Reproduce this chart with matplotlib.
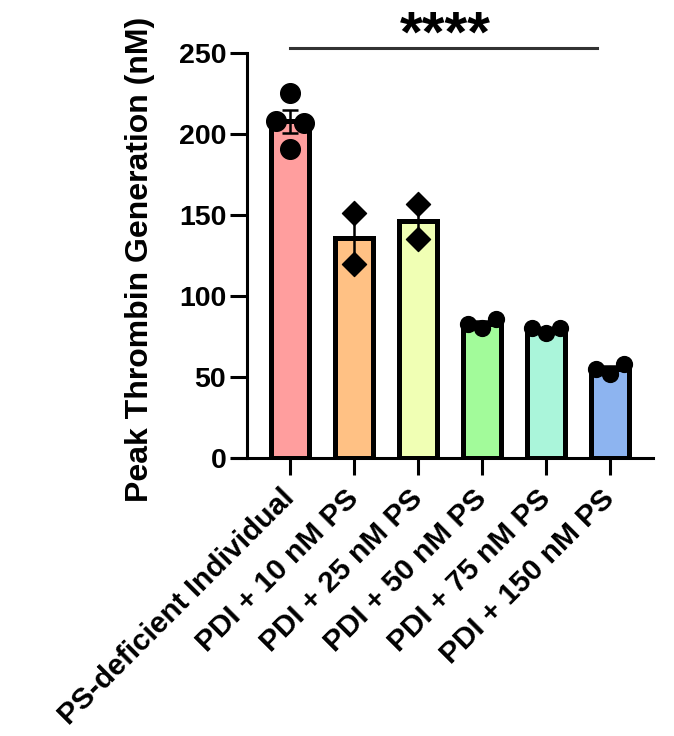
import numpy as np
import matplotlib
matplotlib.use('Agg')
import matplotlib.pyplot as plt
from matplotlib import rcParams

rcParams['font.family'] = ['Liberation Sans', 'DejaVu Sans']
rcParams['font.weight'] = 'bold'

# data
groups = ['PS-deficient Individual', 'PDI + 10 nM PS', 'PDI + 25 nM PS',
          'PDI + 50 nM PS', 'PDI + 75 nM PS', 'PDI + 150 nM PS']
pts_ps_def = [225, 208, 207, 191]
pts_10 = [151, 120]
pts_25 = [157, 135]
pts_50 = [83, 80, 86]
pts_75 = [80, 77, 80]
pts_150 = [55, 52, 58]
all_pts = [pts_ps_def, pts_10, pts_25, pts_50, pts_75, pts_150]

colors = ['#FF9E9E', '#FFC184', '#F0FFB4', '#A2FB9A', '#AAF5DA', '#8DB4F0']
markers = ['o', 'D', 'D', 'o', 'o', 'o']
msizes = [200, 150, 150, 130, 130, 130]


def spread(vals, close=7, step=0.22):
    # points with nearly equal values are set side by side (list order = left to right)
    order = sorted(range(len(vals)), key=lambda j: vals[j])
    clusters = [[order[0]]]
    for j in order[1:]:
        if vals[j] - vals[clusters[-1][-1]] < close:
            clusters[-1].append(j)
        else:
            clusters.append([j])
    offs = [0.0] * len(vals)
    for c in clusters:
        c = sorted(c)
        n = len(c)
        for k, j in enumerate(c):
            offs[j] = (k - (n - 1) / 2) * step * (2 if n == 2 else 1)
    return offs


fig = plt.figure(figsize=(6.74, 7.36), dpi=100)
ax = fig.add_axes([0.3665, 0.3777, 0.6025, 0.5503])

x = np.arange(len(groups))
means = [np.mean(p) for p in all_pts]
sems = [np.std(p, ddof=1) / np.sqrt(len(p)) for p in all_pts]

ax.bar(x, means, width=0.6, color=colors, edgecolor='black', linewidth=3.6, zorder=2)
ax.errorbar(x, means, yerr=sems, fmt='none', ecolor='black', elinewidth=1.8,
            capsize=6, capthick=1.8, zorder=3)
for i, p in enumerate(all_pts):
    offs = spread(p)
    ax.scatter(x[i] + np.array(offs), p, s=msizes[i],
               marker=markers[i], color='black', zorder=4, clip_on=False)

ax.set_xlim(-0.67, 5.67)
ax.set_ylim(0, 250)
ax.set_yticks([0, 50, 100, 150, 200, 250])
ax.set_xticks(x)
ax.set_xticklabels(groups, rotation=45, ha='right', va='center',
                   rotation_mode='anchor', fontsize=21.5, fontweight='bold')
ax.tick_params(axis='y', labelsize=20.5, width=2.2, length=12, pad=3)
ax.tick_params(axis='x', width=2.2, length=12, pad=14)
for lab in ax.get_yticklabels():
    lab.set_fontweight('bold')

ax.spines['top'].set_visible(False)
ax.spines['right'].set_visible(False)
ax.spines['left'].set_linewidth(2.2)
ax.spines['bottom'].set_linewidth(2.2)
ax.spines['bottom'].set_bounds(-0.9, 5.67)

ax.set_ylabel('Peak Thrombin Generation (nM)', fontsize=23, fontweight='bold',
              va='center')
ax.yaxis.set_label_coords(-0.264, 0.49)

# significance bar
ax.plot([0, 4.8], [253, 253], color='#333333', linewidth=2.2, clip_on=False)
ax.text(2.42, 260, '****', ha='center', va='center', fontsize=42,
        fontweight='bold', clip_on=False)

fig.savefig('out.png', dpi=100)
